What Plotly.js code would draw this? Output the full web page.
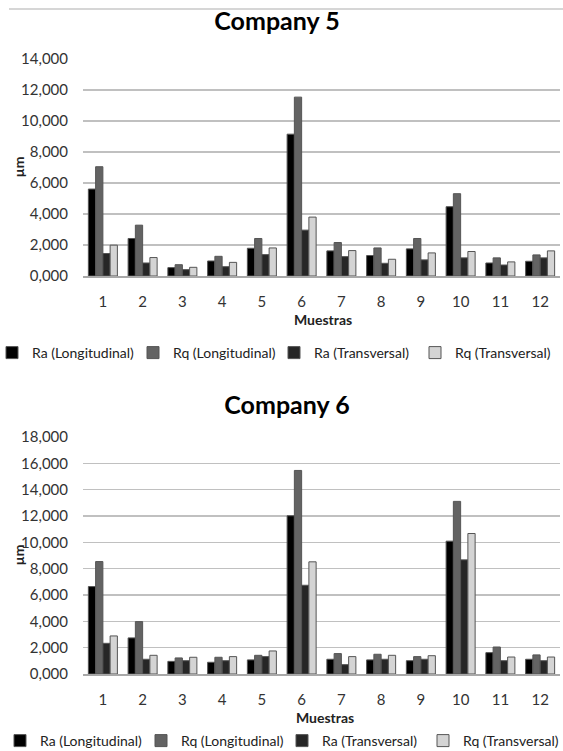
<!DOCTYPE html>
<html>
<head>
<meta charset="utf-8">
<script src="https://cdn.plot.ly/plotly-3.0.1.min.js"></script>
<style>html,body{margin:0;padding:0;background:#fff;overflow:hidden;}#c5{width:563px;height:375px;}#c6{width:563px;height:376px;}</style>
</head>
<body>
<div id="c5"></div>
<div id="c6"></div>
<script>
// Categories (Muestras)
var muestras = ['1','2','3','4','5','6','7','8','9','10','11','12'];
var seriesNames = ['Ra (Longitudinal)','Rq (Longitudinal)','Ra (Transversal)','Rq (Transversal)'];

// Company 5 values (µm)
var c5RaLong  = [5.61, 2.42, 0.54, 0.97, 1.79, 9.15, 1.62, 1.32, 1.75, 4.47, 0.84, 0.95];
var c5RqLong  = [7.05, 3.28, 0.73, 1.27, 2.42, 11.54, 2.16, 1.81, 2.42, 5.31, 1.17, 1.36];
var c5RaTrans = [1.45, 0.84, 0.41, 0.60, 1.38, 2.96, 1.25, 0.82, 1.04, 1.17, 0.71, 1.17];
var c5RqTrans = [1.99, 1.19, 0.56, 0.88, 1.81, 3.80, 1.64, 1.08, 1.49, 1.58, 0.91, 1.62];

// Company 6 values (µm)
var c6RaLong  = [6.64, 2.74, 0.96, 0.89, 1.07, 12.02, 1.12, 1.07, 1.01, 10.09, 1.62, 1.12];
var c6RqLong  = [8.54, 3.98, 1.22, 1.27, 1.42, 15.46, 1.55, 1.50, 1.32, 13.11, 2.05, 1.45];
var c6RaTrans = [2.33, 1.12, 1.01, 1.01, 1.32, 6.74, 0.71, 1.12, 1.12, 8.67, 1.01, 1.01];
var c6RqTrans = [2.89, 1.42, 1.27, 1.32, 1.75, 8.52, 1.32, 1.42, 1.39, 10.67, 1.29, 1.29];

var fills = ['#000000','#636363','#262626','#d4d4d4'];
var FONT = 'Lato, "Open Sans", sans-serif';
var W = 563, L = 83, R = 3;

function makeChart(divId, title, series, yMax, H, plotTop, plotBottom, titleY, titleX, muestrasX, muestrasY, legendX, legendY, drawTopLine){
  var traces = series.map(function(vals, i){
    return {type:'bar', x:muestras, y:vals, name:seriesNames[i],
      marker:{color:fills[i], line:{color:'#555555', width:1}}};
  });
  var ph = plotBottom - plotTop;
  function py(pix){ return (plotBottom - pix) / ph; }
  function px(pix){ return (pix - L) / (W - L - R); }
  var layout = {
    width: W, height: H,
    margin: {l: L, r: R, t: plotTop, b: H - plotBottom, autoexpand: false},
    paper_bgcolor: '#ffffff', plot_bgcolor: '#ffffff',
    separators: ',.',
    barmode: 'group', bargap: 0.27, bargroupgap: 0,
    showlegend: true,
    font: {family: FONT},
    title: {text: title, font: {family: FONT, size: 25, color: '#000000', weight: 'bold'},
            x: px(titleX), xref: 'paper', xanchor: 'center', y: (H - titleY) / H, yref: 'container', yanchor: 'middle'},
    xaxis: {type: 'category', showgrid: false, zeroline: false, showline: true, linecolor: '#a8a8a8', linewidth: 1.5,
      ticks: '', ticklabelstandoff: 11, tickfont: {family: FONT, size: 15, color: '#333333'}, automargin: false},
    yaxis: {range: [0, yMax], tickformat: '.3f', dtick: 2, showgrid: true, gridcolor: '#c0c0c0', gridwidth: 1.5,
      zeroline: false, showline: false, ticks: '', ticklabelstandoff: 14, automargin: false,
      tickfont: {family: FONT, size: 15, color: '#333333'}},
    legend: {orientation: 'h', xref: 'paper', yref: 'paper', xanchor: 'left', yanchor: 'middle',
      x: px(legendX), y: py(legendY),
      font: {family: FONT, size: 14, color: '#222222'}, bgcolor: 'rgba(0,0,0,0)',
      entrywidth: 96, entrywidthmode: 'pixels', itemwidth: 30, tracegroupgap: 0},
    annotations: [
      {text: 'Muestras', xref: 'paper', yref: 'paper', x: px(muestrasX), y: py(muestrasY), xanchor: 'center', yanchor: 'middle',
       showarrow: false, font: {family: FONT, size: 14, color: '#222222', weight: 'bold'}},
      {text: 'µm', xref: 'paper', yref: 'paper', x: px(18), y: 0.5, xanchor: 'center', yanchor: 'middle', textangle: -90,
       showarrow: false, font: {family: FONT, size: 14, color: '#222222', weight: 'bold'}}
    ],
    shapes: drawTopLine ? [
      {type: 'line', xref: 'paper', yref: 'paper', x0: px(9), x1: px(563), y0: py(9), y1: py(9),
       line: {color: '#c8c8c8', width: 1.5}}
    ] : []
  };
  Plotly.newPlot(divId, traces, layout, {displayModeBar: false, staticPlot: true});
}

makeChart('c5', 'Company 5', [c5RaLong, c5RqLong, c5RaTrans, c5RqTrans], 14, 375,
          59, 276, 21, 277, 323, 319, -8, 353, true);
makeChart('c6', 'Company 6', [c6RaLong, c6RqLong, c6RaTrans, c6RqTrans], 18, 376,
          437 - 375, 674 - 375, 405 - 375, 287, 325, 717 - 375, 0, 741 - 375, false);
</script>
</body>
</html>
